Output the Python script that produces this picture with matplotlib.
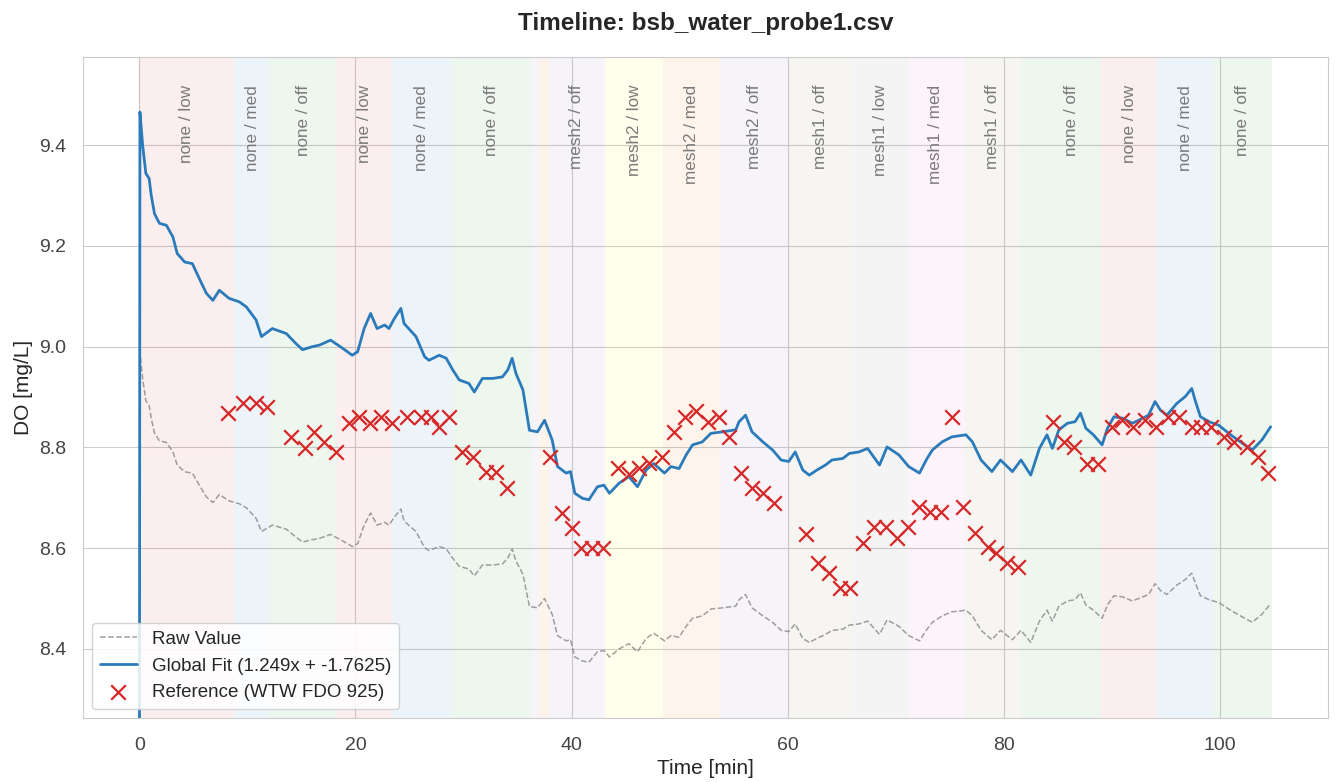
import matplotlib
matplotlib.use("Agg")
import matplotlib.pyplot as plt
import matplotlib.transforms as mtransforms
import numpy as np
import seaborn as sns

# --- data ---
fit_slope = 1.249
fit_offset = -1.7625

# calibrated (global fit) trace, time in minutes
fit_time = [
    0.0, 0.05, 0.3, 0.6, 0.9, 1.1, 1.4, 1.85, 2.5, 3.1, 3.5, 4.2, 4.9, 5.55,
    6.2, 6.8, 7.4, 8.3, 9.25, 9.9, 10.8, 11.3, 12.3, 13.6, 14.5, 15.1, 16.0,
    16.65, 17.7, 18.8, 19.7, 20.2, 20.8, 21.4, 22.0, 22.7, 23.1, 23.6, 24.2,
    24.5, 25.6, 26.4, 26.8, 27.75, 28.4, 29.0, 29.6, 30.5, 31.0, 31.75, 32.7,
    33.6, 34.1, 34.5, 34.85, 35.5, 36.1, 36.85, 37.5, 38.2, 38.7, 39.5, 39.9,
    40.3, 41.0, 41.6, 42.4, 43.0, 43.5, 44.4, 45.3, 46.1, 46.9, 47.6, 48.6,
    49.2, 49.95, 50.6, 51.2, 52.1, 52.9, 54.0, 55.2, 55.5, 56.1, 56.7, 57.7,
    58.6, 59.4, 60.1, 60.7, 61.4, 62.0, 62.7, 63.5, 64.1, 65.1, 65.7, 66.6,
    67.4, 68.5, 69.2, 70.3, 71.2, 72.2, 72.9, 73.4, 74.3, 75.2, 76.5, 77.1,
    77.9, 78.9, 79.7, 80.8, 81.6, 82.5, 83.3, 84.0, 84.5, 85.1, 85.9, 86.6,
    87.1, 87.6, 88.3, 89.1, 89.6, 90.2, 91.0, 91.9, 92.5, 93.4, 94.0, 94.5,
    95.1, 96.0, 96.8, 97.4, 97.75, 98.2, 99.0, 99.9, 101.0, 101.9, 103.0,
    103.9, 104.7,
]
fit_value = [
    8.10, 9.466, 9.40, 9.344, 9.334, 9.30, 9.264, 9.245, 9.241, 9.218, 9.185,
    9.168, 9.165, 9.135, 9.106, 9.092, 9.112, 9.096, 9.089, 9.079, 9.053, 9.02,
    9.036, 9.026, 9.006, 8.994, 9.00, 9.003, 9.013, 8.997, 8.983, 8.99, 9.036,
    9.066, 9.036, 9.043, 9.036, 9.056, 9.076, 9.046, 9.02, 8.98, 8.973, 8.983,
    8.977, 8.954, 8.934, 8.927, 8.91, 8.937, 8.937, 8.94, 8.954, 8.977, 8.947,
    8.914, 8.834, 8.831, 8.854, 8.815, 8.762, 8.749, 8.752, 8.709, 8.699,
    8.696, 8.722, 8.725, 8.709, 8.729, 8.742, 8.722, 8.755, 8.768, 8.749,
    8.762, 8.758, 8.785, 8.805, 8.811, 8.828, 8.831, 8.835, 8.851, 8.864,
    8.831, 8.811, 8.795, 8.775, 8.772, 8.791, 8.755, 8.745, 8.755, 8.765,
    8.775, 8.778, 8.788, 8.791, 8.798, 8.765, 8.801, 8.785, 8.762, 8.749,
    8.778, 8.795, 8.811, 8.821, 8.825, 8.811, 8.775, 8.752, 8.775, 8.752,
    8.775, 8.745, 8.798, 8.825, 8.798, 8.835, 8.848, 8.851, 8.868, 8.838,
    8.825, 8.805, 8.838, 8.861, 8.858, 8.848, 8.854, 8.864, 8.891, 8.874,
    8.864, 8.887, 8.901, 8.917, 8.891, 8.861, 8.851, 8.844, 8.825, 8.811,
    8.795, 8.815, 8.841,
]

# reference instrument readings
ref_time = [
    8.17, 9.62, 10.8, 11.8, 14.0, 15.3, 16.2, 17.1, 18.2, 19.4, 20.35, 21.3,
    22.4, 23.4, 24.8, 26.1, 27.0, 27.7, 28.7, 29.9, 30.9, 32.1, 33.0, 34.0,
    38.0, 39.1, 40.0, 40.9, 41.9, 42.9, 44.3, 45.3, 46.2, 47.2, 48.4, 49.5,
    50.5, 51.5, 52.6, 53.6, 54.6, 55.7, 56.7, 57.7, 58.7, 61.7, 62.8, 63.8,
    64.8, 65.8, 67.0, 68.0, 69.1, 70.1, 71.1, 72.2, 73.2, 74.2, 75.2, 76.2,
    77.3, 78.5, 79.3, 80.3, 81.3, 84.6, 85.6, 86.5, 87.7, 88.7, 90.0, 90.9,
    92.0, 93.1, 94.1, 95.2, 96.2, 97.4, 98.3, 99.2, 100.4, 101.3, 102.5,
    103.5, 104.5,
]
ref_value = [
    8.869, 8.889, 8.889, 8.881, 8.82, 8.798, 8.831, 8.81, 8.79, 8.849, 8.86,
    8.849, 8.86, 8.849, 8.86, 8.86, 8.86, 8.84, 8.86, 8.79, 8.78, 8.752,
    8.752, 8.72, 8.78, 8.67, 8.64, 8.60, 8.60, 8.60, 8.76, 8.747, 8.76, 8.77,
    8.78, 8.831, 8.861, 8.873, 8.851, 8.861, 8.82, 8.75, 8.719, 8.709, 8.689,
    8.629, 8.571, 8.55, 8.52, 8.52, 8.61, 8.641, 8.641, 8.62, 8.641, 8.682,
    8.672, 8.672, 8.861, 8.682, 8.631, 8.603, 8.591, 8.57, 8.562, 8.851,
    8.811, 8.80, 8.768, 8.768, 8.841, 8.854, 8.84, 8.854, 8.84, 8.861, 8.861,
    8.84, 8.84, 8.84, 8.821, 8.81, 8.80, 8.78, 8.749,
]

# experiment phases (mesh / flow level)
seg_start = [0.0, 8.8, 12.1, 18.2, 23.4, 28.9, 36.2, 37.0, 37.9, 43.1, 48.5,
             53.7, 60.1, 66.0, 71.1, 76.3, 81.6, 83.6, 89.0, 94.2, 99.4]
seg_end = [8.8, 12.1, 18.2, 23.4, 28.9, 36.2, 37.0, 37.9, 43.1, 48.5, 53.7,
           60.1, 66.0, 71.1, 76.3, 81.6, 83.6, 89.0, 94.2, 99.4, 104.8]
seg_label = ["none / low", "none / med", "none / off", "none / low",
             "none / med", "none / off", "mesh2 / off", "mesh2 / med",
             "mesh2 / off", "mesh2 / low", "mesh2 / med", "mesh2 / off",
             "mesh1 / off", "mesh1 / low", "mesh1 / med", "mesh1 / off",
             "none / off", "none / off", "none / low", "none / med",
             "none / off"]

phase_colors = {
    "none / low": "tab:red",
    "none / med": "tab:blue",
    "none / off": "tab:green",
    "mesh2 / off": "tab:purple",
    "mesh2 / low": "#ffff00",
    "mesh2 / med": "tab:orange",
    "mesh1 / off": "#918755",
    "mesh1 / low": "tab:gray",
    "mesh1 / med": "tab:pink",
}

fit_time = np.array(fit_time)
fit_value = np.array(fit_value)
# raw sensor value = inverse of the global fit
raw_value = (fit_value - fit_offset) / fit_slope

sns.set_style("whitegrid")
plt.rcParams["font.family"] = ["Liberation Sans", "DejaVu Sans"]

fig, ax = plt.subplots(figsize=(13.35, 7.82), dpi=100)
fig.subplots_adjust(left=0.062, right=0.995, top=0.927, bottom=0.082)

trans = mtransforms.blended_transform_factory(ax.transData, ax.transAxes)
for s, e, lab in zip(seg_start, seg_end, seg_label):
    ax.axvspan(s, e, color=phase_colors[lab], alpha=0.08, lw=0)
    if e - s > 2.5:
        ax.text((s + e) / 2, 0.958, lab, transform=trans, rotation=90,
                ha="center", va="top", fontsize=12.3, color="#7a7a7a")

ax.plot(fit_time, raw_value, "--", color="gray", lw=1.1, alpha=0.75,
        label="Raw Value")
ax.plot(fit_time, fit_value, "-", color="#2b7bba", lw=2,
        label=f"Global Fit ({fit_slope}x + {fit_offset})")
ax.scatter(ref_time, ref_value, marker="x", s=110, color="#d62728",
           linewidths=1.6, zorder=5, label="Reference (WTW FDO 925)")

ax.set_ylim(8.263, 9.575)
ax.set_xlabel("Time [min]", fontsize=15)
ax.set_ylabel("DO [mg/L]", fontsize=15)
ax.set_title("Timeline: bsb_water_probe1.csv", fontsize=17.5,
             fontweight="bold", pad=19.5)
ax.tick_params(axis="x", labelsize=14, pad=10, colors="#444444")
ax.tick_params(axis="y", labelsize=14, pad=8.5, colors="#444444")
ax.legend(loc="lower left", fontsize=13.5, framealpha=0.85)

plt.savefig("out.png", dpi=100)
